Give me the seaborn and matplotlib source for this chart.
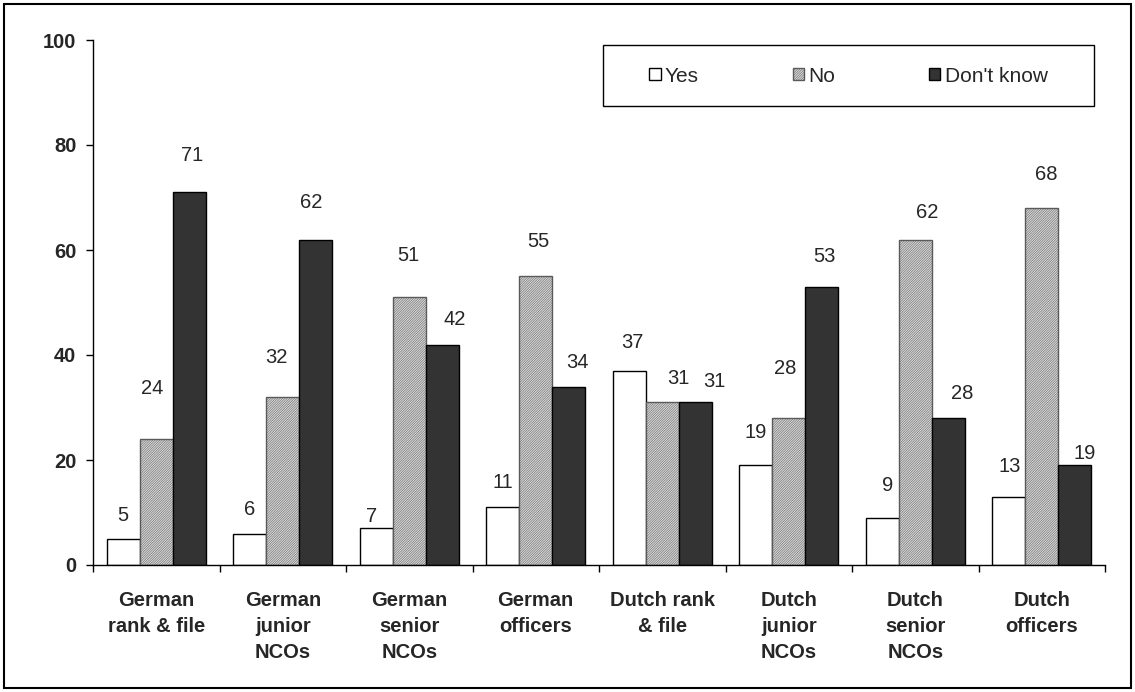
import numpy as np
import pandas as pd
import matplotlib
matplotlib.use("Agg")
import matplotlib.pyplot as plt
from matplotlib.patches import Rectangle
import seaborn as sns

# groups and answers
groups = ["German\nrank & file", "German\njunior\nNCOs", "German\nsenior\nNCOs",
          "German\nofficers", "Dutch rank\n& file", "Dutch\njunior\nNCOs",
          "Dutch\nsenior\nNCOs", "Dutch\nofficers"]
answers = ["Yes", "No", "Don't know"]

yes = [5, 6, 7, 11, 37, 19, 9, 13]
no = [24, 32, 51, 55, 31, 28, 62, 68]
dont_know = [71, 62, 42, 34, 31, 53, 28, 19]

# where the value labels sit (height in data units, sideways shift in px)
label_y_yes = [9.5, 10.5, 9.3, 15.8, 42.3, 25.3, 15.2, 18.7]
label_y_no = [33.7, 39.6, 58.9, 61.7, 35.6, 37.5, 67.2, 74.3]
label_y_dk = [78.0, 69.0, 46.7, 38.5, 34.9, 58.7, 32.6, 21.3]
label_dx_yes = [-1, 0, -5, 0, 3, 0, 5, 1]
label_dx_no = [-4, -6, -1, 3, 16, -4, 12, 5]
label_dx_dk = [3, -4, 13, 9, 19, 3, 14, 10]

df = pd.DataFrame({
    "group": groups * 3,
    "answer": np.repeat(answers, len(groups)),
    "value": yes + no + dont_know,
})

sns.set_style("white")
plt.rcParams['font.family'] = ['Liberation Sans', 'DejaVu Sans']
plt.rcParams['hatch.linewidth'] = 0.35

fs = 14.5

fig = plt.figure(figsize=(11.35, 6.92), dpi=100)
ax = fig.add_axes([93 / 1135, 1 - 565 / 692, (1105 - 93) / 1135, 525 / 692])

sns.barplot(data=df, x="group", y="value", hue="answer", hue_order=answers,
            palette=["white", "#d6d6d6", "#333333"], width=0.78,
            edgecolor="black", linewidth=1, saturation=1, ax=ax, legend=False)

# fine hatch on the "No" bars
for p in ax.containers[1]:
    p.set_hatch("/" * 14)
    p.set_edgecolor("#5a5a5a")

ax.set_ylim(0, 100)
ax.set_xlim(-0.5, len(groups) - 0.5)
ax.set_yticks(range(0, 101, 20))
ax.set_xlabel("")
ax.set_ylabel("")

for s in ["top", "right"]:
    ax.spines[s].set_visible(False)
for s in ["left", "bottom"]:
    ax.spines[s].set_color("black")
    ax.spines[s].set_linewidth(1)

ax.tick_params(axis="y", direction="out", length=5, width=1, color="black",
               labelsize=fs, pad=7, left=True)
ax.tick_params(axis="x", which="major", length=0, labelsize=fs, pad=19)
ax.set_xticks(np.arange(-0.5, len(groups)), minor=True)
ax.tick_params(axis="x", which="minor", direction="out", length=5, width=1,
               color="black", bottom=True)
for lab in ax.get_yticklabels():
    lab.set_fontweight("bold")
for lab in ax.get_xticklabels():
    lab.set_fontweight("bold")
    lab.set_linespacing(1.44)

# value labels
label_sets = [(yes, label_y_yes, label_dx_yes),
              (no, label_y_no, label_dx_no),
              (dont_know, label_y_dk, label_dx_dk)]
for cont, (vals, ly, ldx) in zip(ax.containers, label_sets):
    for p, v, y, dx in zip(cont, vals, ly, ldx):
        xc = p.get_x() + p.get_width() / 2
        ax.annotate(str(v), xy=(xc, y), xytext=(dx * 0.72, 0),
                    textcoords="offset points", ha="center", va="center",
                    fontsize=fs)

# legend: entries centred in a separately drawn box
handles = [c for c in ax.containers]
leg = fig.legend(handles, answers, ncol=3, loc="center",
                 bbox_to_anchor=(848.5 / 1135, 1 - 76 / 692),
                 fontsize=15, frameon=False,
                 handlelength=0.55, handleheight=0.55, handletextpad=0.2,
                 columnspacing=4.5, borderaxespad=0, borderpad=0)
fig.patches.append(Rectangle((603 / 1135, 1 - 106 / 692), 491 / 1135, 61 / 692,
                             transform=fig.transFigure, facecolor="white",
                             edgecolor="black", linewidth=1, zorder=0))

# border round the whole picture
fig.patches.append(Rectangle((4 / 1135, 4 / 692), 1 - 8 / 1135, 1 - 8 / 692,
                             transform=fig.transFigure, fill=False,
                             edgecolor="black", linewidth=1.5))

fig.savefig("out.png", dpi=100)
